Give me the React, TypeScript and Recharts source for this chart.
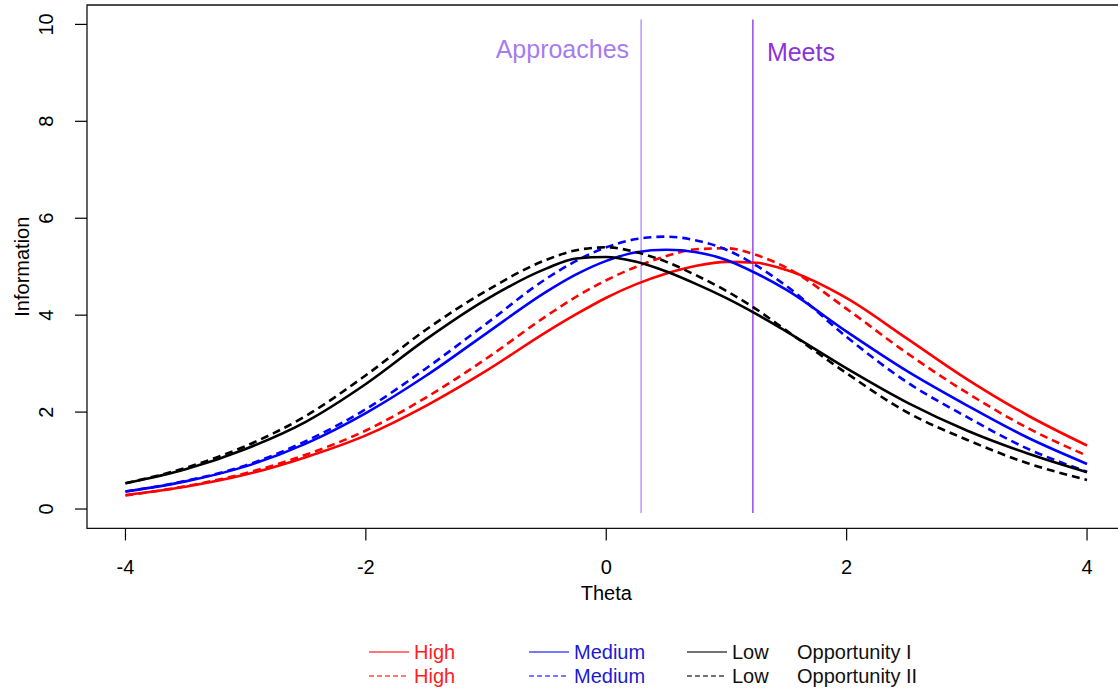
import React from "react";
import {
  LineChart,
  Line,
  XAxis,
  YAxis,
  ReferenceLine,
  ReferenceArea,
} from "recharts";

// theta grid and information values
const theta = [-4, -3.5, -3, -2.5, -2, -1.5, -1, -0.5, -0.25, 0, 0.25, 0.5, 0.75, 1, 1.25, 1.5, 2, 2.5, 3, 3.5, 4];
const highI = [0.29, 0.46, 0.71, 1.07, 1.52, 2.13, 2.85, 3.65, 4.02, 4.36, 4.64, 4.86, 5.02, 5.1, 5.08, 4.93, 4.35, 3.52, 2.68, 1.94, 1.31];
const highII = [0.28, 0.47, 0.74, 1.12, 1.62, 2.3, 3.1, 3.98, 4.38, 4.72, 5.0, 5.22, 5.36, 5.38, 5.24, 4.98, 4.13, 3.22, 2.4, 1.68, 1.1];
const mediumI = [0.36, 0.57, 0.88, 1.35, 1.98, 2.75, 3.62, 4.48, 4.84, 5.12, 5.3, 5.35, 5.3, 5.14, 4.86, 4.52, 3.66, 2.85, 2.14, 1.48, 0.93];
const mediumII = [0.36, 0.58, 0.9, 1.4, 2.06, 2.9, 3.82, 4.75, 5.12, 5.4, 5.57, 5.62, 5.54, 5.35, 5.02, 4.6, 3.55, 2.62, 1.9, 1.25, 0.77];
const lowI = [0.53, 0.82, 1.24, 1.8, 2.58, 3.5, 4.32, 4.96, 5.17, 5.2, 5.1, 4.9, 4.64, 4.35, 4.02, 3.66, 2.9, 2.2, 1.62, 1.15, 0.76];
const lowII = [0.53, 0.85, 1.3, 1.92, 2.76, 3.7, 4.5, 5.14, 5.34, 5.4, 5.3, 5.1, 4.82, 4.5, 4.12, 3.68, 2.8, 2.0, 1.43, 0.95, 0.6];

const xTicks = [-4, -2, 0, 2, 4];
const yTicks = [0, 2, 4, 6, 8, 10];
const approachesCut = 0.29;
const meetsCut = 1.22;

const data = theta.map((t, i) => ({
  theta: t,
  highI: highI[i],
  highII: highII[i],
  mediumI: mediumI[i],
  mediumII: mediumII[i],
  lowI: lowI[i],
  lowII: lowII[i],
}));

const series = [
  { key: "highI", color: "#ff0000", dash: undefined },
  { key: "highII", color: "#ff0000", dash: "8 5" },
  { key: "mediumI", color: "#0000ff", dash: undefined },
  { key: "mediumII", color: "#0000ff", dash: "8 5" },
  { key: "lowI", color: "#000000", dash: undefined },
  { key: "lowII", color: "#000000", dash: "8 5" },
];

const font = "'Liberation Sans', Arial, sans-serif";

const XTick = (props: any) => {
  const { x, y, payload } = props;
  return (
    <text x={x} y={y + 34} textAnchor="middle" fontSize={20} fill="#000" fontFamily={font}>
      {payload.value}
    </text>
  );
};

const YTick = (props: any) => {
  const { x, y, payload } = props;
  const bx = x - 22;
  return (
    <text
      x={bx}
      y={y}
      transform={`rotate(-90 ${bx} ${y})`}
      textAnchor="middle"
      fontSize={20}
      fill="#000"
      fontFamily={font}
    >
      {payload.value}
    </text>
  );
};

const legendRows = [
  { dash: undefined, group: "Opportunity I" },
  { dash: "5 3", group: "Opportunity II" },
];
const legendCols = [
  { name: "High", color: "#ff2020", line: "#ff4a4a", left: 368 },
  { name: "Medium", color: "#1a1ad0", line: "#4a4aff", left: 528 },
  { name: "Low", color: "#111", line: "#444", left: 686 },
];

function LegendBlock() {
  return (
    <div style={{ position: "absolute", left: 0, top: 640, width: 1118, height: 50, fontFamily: font, fontSize: 20 }}>
      {legendRows.map((r, ri) => (
        <div key={ri} style={{ position: "absolute", top: ri * 24, left: 0, height: 24, width: 1118 }}>
          {legendCols.map((c) => (
            <div key={c.name} style={{ position: "absolute", left: c.left, top: 0, height: 24, display: "flex", alignItems: "center" }}>
              <svg width={42} height={24}>
                <line x1={1} y1={12} x2={41} y2={12} stroke={c.line} strokeWidth={1.6} strokeDasharray={r.dash} />
              </svg>
              <span style={{ color: c.color, marginLeft: 4, lineHeight: "24px" }}>{c.name}</span>
            </div>
          ))}
          <div style={{ position: "absolute", left: 797, top: 0, lineHeight: "24px", color: "#111" }}>{r.group}</div>
        </div>
      ))}
    </div>
  );
}

export default function App() {
  return (
    <div
      style={{
        position: "absolute",
        left: 0,
        top: 0,
        width: 1118,
        height: 693,
        overflow: "hidden",
        background: "#fff",
      }}
    >
      <LineChart
        width={1140}
        height={693}
        data={data}
        margin={{ top: 5, right: 14.5, bottom: 104.6, left: 27 }}
      >
        <XAxis
          dataKey="theta"
          type="number"
          domain={[-4.32, 4.32]}
          allowDataOverflow
          ticks={xTicks}
          axisLine={false}
          tickSize={12}
          tickMargin={0}
          tickLine={{ stroke: "#000", strokeWidth: 1.2 }}
          tick={<XTick />}
          height={60}
          label={(p: any) => {
            const vb = p.viewBox;
            return (
              <text x={vb.x + vb.width / 2} y={vb.y + 72} textAnchor="middle" fontSize={20} fontFamily={font} fill="#000">
                Theta
              </text>
            );
          }}
        />
        <YAxis
          type="number"
          domain={[-0.4, 10.4]}
          allowDataOverflow
          ticks={yTicks}
          axisLine={false}
          tickSize={12}
          tickMargin={0}
          tickLine={{ stroke: "#000", strokeWidth: 1.2 }}
          tick={<YTick />}
          width={60}
          label={(p: any) => {
            const vb = p.viewBox;
            const bx = vb.x + 2;
            const cy = vb.y + vb.height / 2;
            return (
              <text x={bx} y={cy} transform={`rotate(-90 ${bx} ${cy})`} textAnchor="middle" fontSize={20} fontFamily={font} fill="#000">
                Information
              </text>
            );
          }}
        />
        <ReferenceArea
          x1={-4.32}
          x2={4.32}
          y1={-0.4}
          y2={10.4}
          fill="none"
          fillOpacity={0}
          stroke="#111"
          strokeWidth={1.3}
          ifOverflow="visible"
        />
        <ReferenceLine
          segment={[
            { x: approachesCut, y: -0.08 },
            { x: approachesCut, y: 10.1 },
          ]}
          stroke="#a98af5"
          strokeWidth={1.3}
          ifOverflow="visible"
          label={(p: any) => (
            <text x={p.viewBox.x - 12} y={p.viewBox.y + 38.5} textAnchor="end" fontSize={25} fontFamily={font} fill="#a67cf2">
              Approaches
            </text>
          )}
        />
        <ReferenceLine
          segment={[
            { x: meetsCut, y: -0.08 },
            { x: meetsCut, y: 10.1 },
          ]}
          stroke="#8a2be2"
          strokeWidth={1.3}
          ifOverflow="visible"
          label={(p: any) => (
            <text x={p.viewBox.x + 14} y={p.viewBox.y + 41.5} textAnchor="start" fontSize={25} fontFamily={font} fill="#8a35d8">
              Meets
            </text>
          )}
        />
        {series.map((s) => (
          <Line
            key={s.key}
            dataKey={s.key}
            type="monotone"
            stroke={s.color}
            strokeWidth={2.6}
            strokeDasharray={s.dash}
            dot={false}
            activeDot={false}
            isAnimationActive={false}
          />
        ))}
      </LineChart>
      <LegendBlock />
    </div>
  );
}
